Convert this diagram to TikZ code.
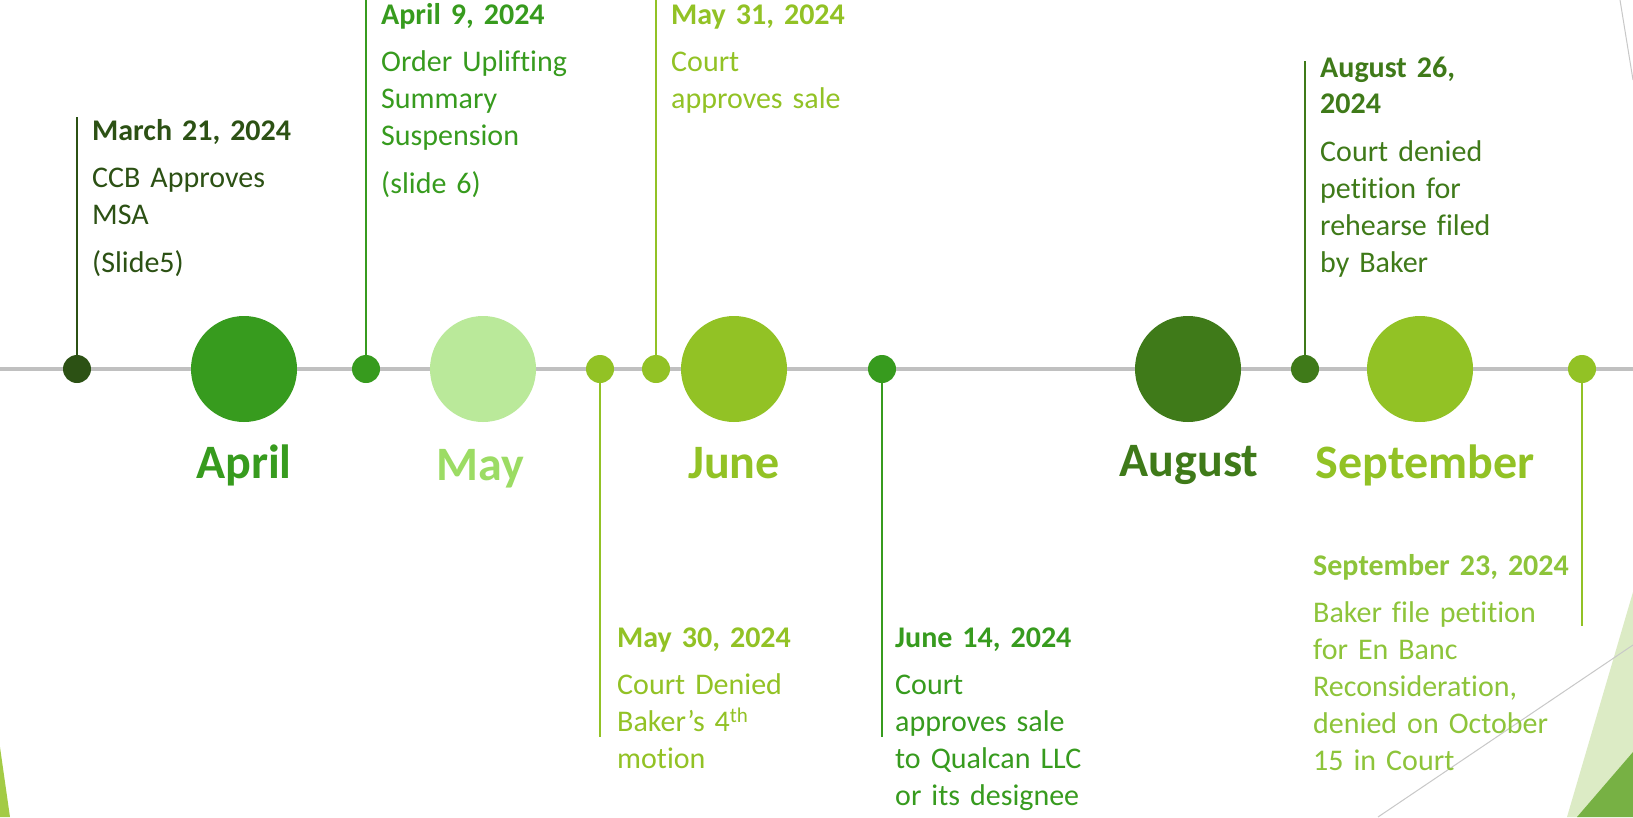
\documentclass[tikz,border=0pt]{standalone}
\usepackage{fontspec}
\setmainfont{Carlito}[Ligatures={NoCommon}]
\begin{document}
\begin{tikzpicture}[x=1pt,y=-1pt]
% palette
\definecolor{cMarch}{HTML}{2C5114}
\definecolor{cApril}{HTML}{379B1E}
\definecolor{cMayDisc}{HTML}{BAE99A}
\definecolor{cMayText}{HTML}{9CDC64}
\definecolor{cLime}{HTML}{92C225}
\definecolor{cSept}{HTML}{8DC43A}
\definecolor{cAugust}{HTML}{3F7A19}
\definecolor{cAxis}{HTML}{C0C0C0}
\definecolor{cPale}{HTML}{DCEBC5}
\definecolor{cLeaf}{HTML}{77B144}
\definecolor{cSliver}{HTML}{A3CB45}
\definecolor{cThin}{HTML}{C8C8C8}
\tikzset{
  bigdot/.style={circle, fill=#1, minimum size=106pt, inner sep=0pt},
  smalldot/.style={circle, fill=#1, minimum size=28pt, inner sep=0pt},
  stem/.style={draw=#1, line width=2.8pt},
  month/.style={font=\fontsize{48}{56}\selectfont\bfseries, text=#1, anchor=base, inner sep=0pt},
  event/.style={text=#1, anchor=base west, inner sep=0pt, text width=300pt, align=left,
                font=\fontsize{30}{36.8}\selectfont},
}
% canvas
\fill[white] (0,0) rectangle (1633,817);
\useasboundingbox (0,0) rectangle (1633,817);

% corner ornaments
\fill[cPale] (1633,592) -- (1567,817) -- (1633,817) -- cycle;
\fill[cLeaf] (1577,817) -- (1633,752) -- (1633,817) -- cycle;
\draw[cThin, line width=1pt] (1378,817) -- (1633,645);
\draw[cThin, line width=1pt] (1620,0) -- (1633,80);
\fill[cSliver] (0,747) -- (10,817) -- (0,817) -- cycle;

% axis
\coordinate (axL) at (0,369);
\coordinate (axR) at (1633,369);
\draw[cAxis, line width=3.5pt] (axL) -- (axR);

% event markers on the axis
\node[smalldot=cMarch]  (dMar21) at (77,369) {};
\node[smalldot=cApril]  (dApr9)  at (366,369) {};
\node[smalldot=cLime]   (dMay30) at (600,369) {};
\node[smalldot=cLime]   (dMay31) at (656,369) {};
\node[smalldot=cApril]  (dJun14) at (882,369) {};
\node[smalldot=cAugust] (dAug26) at (1305,369) {};
\node[smalldot=cLime]   (dSep23) at (1582,369) {};

% stem ends
\coordinate (sMar21) at (77,117);
\coordinate (sApr9)  at (366,0);
\coordinate (sMay30) at (600,737);
\coordinate (sMay31) at (656,0);
\coordinate (sJun14) at (882,737);
\coordinate (sAug26) at (1305,61);
\coordinate (sSep23) at (1582,626);

\draw[stem=cMarch]  (dMar21) -- (sMar21);
\draw[stem=cApril]  (dApr9)  -- (sApr9);
\draw[stem=cLime]   (dMay30) -- (sMay30);
\draw[stem=cLime]   (dMay31) -- (sMay31);
\draw[stem=cApril]  (dJun14) -- (sJun14);
\draw[stem=cAugust] (dAug26) -- (sAug26);
\draw[stem=cLime]   (dSep23) -- (sSep23);

% month discs
\node[bigdot=cApril]   (mApr) at (244,369) {};
\node[bigdot=cMayDisc] (mMay) at (483,369) {};
\node[bigdot=cLime]    (mJun) at (734,369) {};
\node[bigdot=cAugust]  (mAug) at (1188,369) {};
\node[bigdot=cLime]    (mSep) at (1420,369) {};

% month names
\node[month=cApril]   (lApr) at (244,478) {April};
\node[month=cMayText] (lMay) at (480,480) {May};
\node[month=cLime]    (lJun) at (734,478) {June};
\node[month=cAugust]  (lAug) at (1189,476) {August};
\node[month=cLime]    (lSep) at (1425,478) {September};

% event texts
\node[event=cMarch] (tMar21) at (92,140)
  {\textbf{March 21, 2024}\\[11pt]CCB Approves\\MSA\\[11pt](Slide5)};
\node[event=cApril] (tApr9) at (381,24)
  {\textbf{April 9, 2024}\\[11pt]Order Uplifting\\Summary\\Suspension\\[11pt](slide 6)};
\node[event=cLime] (tMay31) at (671,24)
  {\textbf{May 31, 2024}\\[11pt]Court\\approves sale};
\node[event=cLime] (tMay30) at (617,647)
  {\textbf{May 30, 2024}\\[11pt]Court Denied\\Baker’s 4\textsuperscript{th}\\motion};
\node[event=cApril] (tJun14) at (895,647)
  {\textbf{June 14, 2024}\\[11pt]Court\\approves sale\\to Qualcan LLC\\or its designee};
\node[event=cAugust] (tAug26) at (1320,77)
  {\textbf{August 26,}\\\textbf{2024}\\[11pt]Court denied\\petition for\\rehearse filed\\by Baker};
\node[event=cSept] (tSep23) at (1313,575)
  {\textbf{September 23, 2024}\\[11pt]Baker file petition\\for En Banc\\Reconsideration,\\denied on October\\15 in Court};
\end{tikzpicture}
\end{document}
